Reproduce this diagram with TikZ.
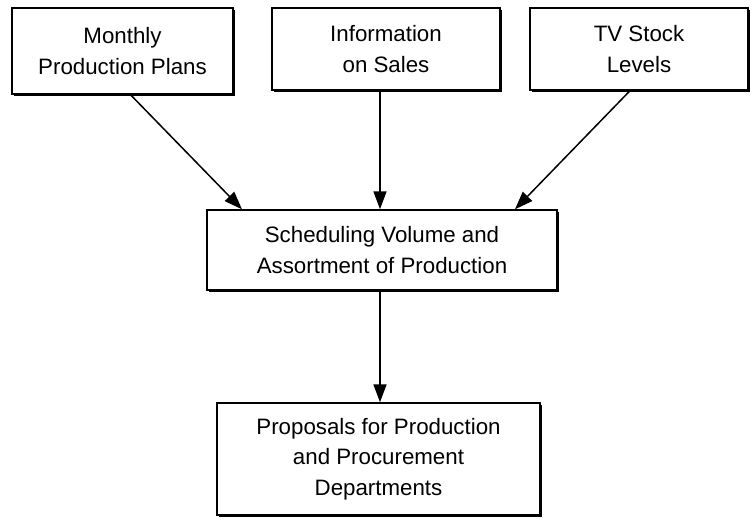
\documentclass[tikz,border=0pt]{standalone}
\usepackage{fontspec}
\setmainfont{Liberation Sans}
\usetikzlibrary{arrows.meta,shadows,calc}
\begin{document}
\begin{tikzpicture}[x=1pt,y=-1pt,
  box/.style={draw=black, line width=1.4pt, fill=white, align=center,
    font=\fontsize{22.3}{30.5}\selectfont, inner sep=0pt,
    drop shadow={shadow xshift=2pt, shadow yshift=-2pt, fill=black, opacity=1}},
  flow/.style={line width=1.5pt, -{Triangle[length=18pt,width=13pt]}}]
\useasboundingbox (0,0) rectangle (752,521);
\node[box, minimum width=221pt, minimum height=86pt] (b1) at (122.5,51) {Monthly\\Production Plans};
\node[box, minimum width=228pt, minimum height=82pt] (b2) at (386,49) {Information\\on Sales};
\node[box, minimum width=218pt, minimum height=82pt] (b3) at (639,49) {TV Stock\\Levels};
\node[box, minimum width=350pt, minimum height=80pt] (mid) at (382,250) {Scheduling Volume and\\Assortment of Production};
\node[box, minimum width=323pt, minimum height=112pt] (out) at (378.5,459) {Proposals for Production\\and Procurement\\Departments};
\draw[flow] ([xshift=8pt]b1.south) -- ([xshift=-140pt]mid.north);
\draw[flow] ([xshift=-6pt]b2.south) -- ([xshift=-2pt]mid.north);
\draw[flow] ([xshift=-9pt]b3.south) -- ([xshift=133pt]mid.north);
\draw[flow] ([xshift=-2pt]mid.south) -- ([xshift=1.5pt]out.north);
\end{tikzpicture}
\end{document}
